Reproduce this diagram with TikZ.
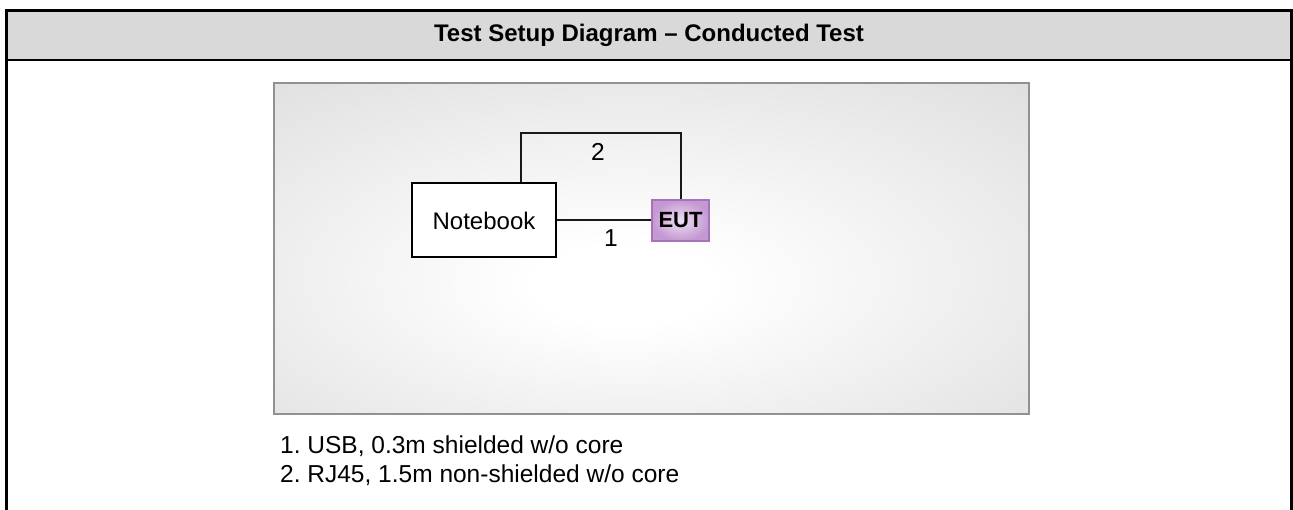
\documentclass[tikz,border=0pt]{standalone}
\usepackage{fontspec}
\setmainfont{Liberation Sans}
\frenchspacing
\definecolor{hdrgray}{RGB}{217,217,217}
\definecolor{panelborder}{RGB}{145,145,145}
\definecolor{eutborder}{RGB}{165,115,185}
\definecolor{eutin}{RGB}{238,224,242}
\definecolor{eutout}{RGB}{196,152,210}
\definecolor{wirecol}{RGB}{25,25,25}
\pgfdeclareradialshading{panelshade}{\pgfpoint{-2bp}{-6bp}}{%
  color(0bp)=(white); color(6bp)=(white);
  color(50bp)=(black!17); color(72bp)=(black!22)}
\begin{document}
\begin{tikzpicture}[x=1pt,y=-1pt,
  lbl/.style={font=\fontsize{24.5}{29}\selectfont, inner sep=0pt},
  boxnode/.style={draw=black, line width=2pt, fill=white, minimum width=144pt, minimum height=74pt, inner sep=0pt, font=\fontsize{24}{29}\selectfont},
  eutnode/.style={draw=eutborder, line width=1.6pt, inner color=eutin, outer color=eutout, minimum width=57pt, minimum height=41pt, inner sep=0pt, font=\bfseries\fontsize{22}{26}\selectfont},
  wire/.style={draw=wirecol, line width=2pt},
  frame/.style={draw=black, line width=3pt},
]
\useasboundingbox (0,0) rectangle (1293,510);
\fill[white] (0,0) rectangle (1293,510);
% header
\fill[hdrgray] (6.5,11) rectangle (1291.5,60);
\node[font=\bfseries\fontsize{24}{29}\selectfont, anchor=base, inner sep=0pt] (title) at (649,42) {Test Setup Diagram -- Conducted Test};
\draw[frame] (6.5,510) -- (6.5,11) -- (1291.5,11) -- (1291.5,510);
\draw[draw=black, line width=2pt] (6.5,60) -- (1291.5,60);
% panel
\shade[shading=panelshade] (274,83) rectangle (1029,414);
\draw[draw=panelborder, line width=2.2pt] (274,83) rectangle (1029,414);
% nodes
\node[boxnode] (nb) at (484,220.5) {Notebook};
\node[eutnode] (eut) at (680.5,220.5) {EUT};
\coordinate (top) at (600,133);
\draw[wire] (nb.east) -- (eut.west);
\draw[wire] ([xshift=36.5pt]nb.north) |- (top) -| (eut.north);
\node[lbl] (l2) at (598,152) {2};
\node[lbl] (l1) at (611,238) {1};
% legend
\node[lbl, anchor=base west] (leg1) at (280,453) {1. USB, 0.3m shielded w/o core};
\node[lbl, anchor=base west] (leg2) at (280,482) {2. RJ45, 1.5m non-shielded w/o core};
\end{tikzpicture}
\end{document}
